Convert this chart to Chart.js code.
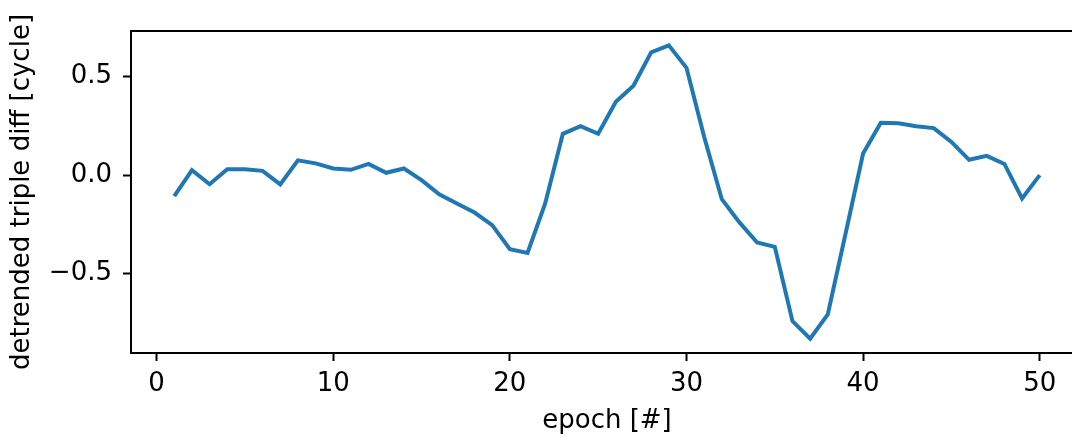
<!DOCTYPE html>
<html>
<head>
<meta charset="utf-8">
<script src="https://cdn.jsdelivr.net/npm/chart.js@4/dist/chart.umd.min.js"></script>
<style>
  html, body { margin: 0; padding: 0; background: #fff; }
  #wrap { width: 1072px; height: 437px; overflow: hidden; }
</style>
</head>
<body>
<div id="wrap"><canvas id="tripleDiffChart" width="1100" height="437" style="width:1100px;height:437px"></canvas></div>
<script>
// detrended triple difference per epoch
var epochs = [1, 2, 3, 4, 5, 6, 7, 8, 9, 10,
              11, 12, 13, 14, 15, 16, 17, 18, 19, 20,
              21, 22, 23, 24, 25, 26, 27, 28, 29, 30,
              31, 32, 33, 34, 35, 36, 37, 38, 39, 40,
              41, 42, 43, 44, 45, 46, 47, 48, 49, 50];
var tripleDiff = [-0.107, 0.025, -0.046, 0.030, 0.030, 0.022, -0.047, 0.075, 0.060, 0.034,
                  0.027, 0.057, 0.012, 0.034, -0.025, -0.097, -0.144, -0.190, -0.254, -0.376,
                  -0.395, -0.144, 0.210, 0.249, 0.210, 0.373, 0.454, 0.624, 0.659, 0.545,
                  0.195, -0.122, -0.240, -0.342, -0.364, -0.741, -0.830, -0.707, -0.300, 0.110,
                  0.266, 0.263, 0.248, 0.239, 0.169, 0.078, 0.098, 0.057, -0.118, 0.000];
var xTicks = [0, 10, 20, 30, 40, 50];
var yTicks = [-0.5, 0, 0.5];

var FONT = { family: 'DejaVu Sans', size: 26 };

Chart.defaults.color = '#000';
Chart.defaults.font.family = 'DejaVu Sans';

// axes box: full rectangle around the plot area
var frame = {
  id: 'frame',
  afterDatasetsDraw: function(chart){
    var a = chart.chartArea, ctx = chart.ctx;
    ctx.save();
    ctx.strokeStyle = '#000';
    ctx.lineWidth = 2;
    ctx.strokeRect(a.left, a.top, a.right - a.left, a.bottom - a.top);
    ctx.restore();
  }
};

var points = epochs.map(function(e, i){ return { x: e, y: tripleDiff[i] }; });

new Chart(document.getElementById('tripleDiffChart'), {
  type: 'line',
  data: {
    datasets: [{
      data: points,
      borderColor: '#1f77b4',
      borderWidth: 4,
      pointRadius: 0,
      tension: 0,
      fill: false
    }]
  },
  options: {
    responsive: false,
    animation: false,
    layout: { padding: { top: 31, right: 17, left: 0, bottom: 0 } },
    plugins: { legend: { display: false }, tooltip: { enabled: false } },
    scales: {
      x: {
        type: 'linear',
        min: -1.45,
        max: 52.45,
        afterBuildTicks: function(scale){ scale.ticks = xTicks.map(function(v){ return { value: v }; }); },
        afterFit: function(scale){ scale.height = 84; },
        grid: { drawOnChartArea: false, drawTicks: true, tickLength: 8, tickWidth: 2, tickColor: '#000' },
        border: { display: false },
        ticks: { font: FONT, padding: 8, maxRotation: 0, callback: function(v){ return String(v); } },
        title: { display: true, text: 'epoch [#]', font: FONT, padding: { top: 0, bottom: 0 } }
      },
      y: {
        type: 'linear',
        min: -0.903,
        max: 0.732,
        afterBuildTicks: function(scale){ scale.ticks = yTicks.map(function(v){ return { value: v }; }); },
        afterFit: function(scale){ scale.width = 131; },
        grid: { drawOnChartArea: false, drawTicks: true, tickLength: 8, tickWidth: 2, tickColor: '#000' },
        border: { display: false },
        ticks: { font: FONT, padding: 11, callback: function(v){ return (v < 0 ? '\u2212' : '') + Math.abs(v).toFixed(1); } },
        title: { display: true, text: 'detrended triple diff [cycle]', font: FONT, padding: { top: 7, bottom: 0 } }
      }
    }
  },
  plugins: [frame]
});
</script>
</body>
</html>
